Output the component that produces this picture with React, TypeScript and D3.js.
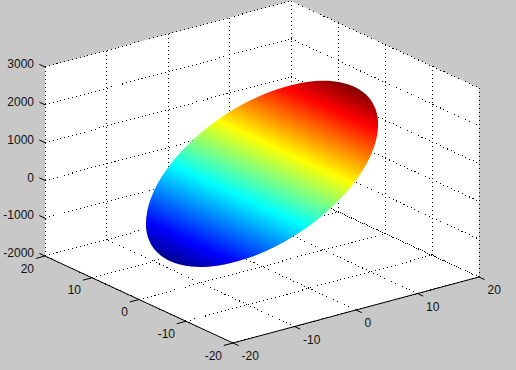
import React, { useEffect, useRef } from 'react';
import * as d3 from 'd3';

const xTicks = [-20, -10, 0, 10, 20];
const yTicks = [20, 10, 0, -10, -20];
const zTicks = [3000, 2000, 1000, 0, -1000, -2000];

// rim of the tilted disc
const rimX = [15, 14.5, 13, 10.6, 7.5, 3.9, 0, -3.9, -7.5, -10.6, -13, -14.5, -15, -14.5, -13, -10.6, -7.5, -3.9, 0, 3.9, 7.5, 10.6, 13, 14.5];
const rimY = [0, 3.9, 7.5, 10.6, 13, 14.5, 15, 14.5, 13, 10.6, 7.5, 3.9, 0, -3.9, -7.5, -10.6, -13, -14.5, -15, -14.5, -13, -10.6, -7.5, -3.9];
const rimZ = [2100, 2045, 1880, 1616, 1275, 879, 450, 21, -375, -716, -980, -1145, -1200, -1145, -980, -716, -375, 21, 450, 879, 1275, 1616, 1880, 2045];

const jetPositions = [0, 0.11, 0.375, 0.625, 0.875, 1];
const jetColors = ['#000090', '#0000ff', '#00ffff', '#ffff00', '#ff0000', '#800000'];

export default function App() {
  const svgRef = useRef<SVGSVGElement>(null);

  useEffect(() => {
    const svg = d3.select(svgRef.current);
    svg.selectAll('*').remove();

    // each data axis pushes the screen point along its own direction
    const xToSx = d3.scaleLinear().domain([-20, 20]).range([0, 246]);
    const xToSy = d3.scaleLinear().domain([-20, 20]).range([0, -66]);
    const yToSx = d3.scaleLinear().domain([-20, 20]).range([0, -188]);
    const yToSy = d3.scaleLinear().domain([-20, 20]).range([0, -87]);
    const zToSy = d3.scaleLinear().domain([-2000, 3000]).range([0, -189]);

    const project = (x: number, y: number, z: number): [number, number] => [
      233 + xToSx(x) + yToSx(y),
      343 + xToSy(x) + yToSy(y) + zToSy(z),
    ];

    const line = d3.line();
    const zMin = -2000;
    const zMax = 3000;

    svg.append('rect').attr('width', 516).attr('height', 370).attr('fill', '#c8c8c8');

    // white walls and floor
    svg.append('path')
      .attr('d', line([
        project(-20, 20, zMin), project(-20, 20, zMax), project(20, 20, zMax),
        project(20, -20, zMax), project(20, -20, zMin), project(-20, -20, zMin),
      ]) + 'Z')
      .attr('fill', '#fff');

    // dotted grid
    const grid: [number, number][][] = [];
    xTicks.forEach(x => {
      grid.push([project(x, 20, zMin), project(x, 20, zMax)]);
      grid.push([project(x, -20, zMin), project(x, 20, zMin)]);
    });
    yTicks.forEach(y => {
      grid.push([project(20, y, zMin), project(20, y, zMax)]);
      grid.push([project(-20, y, zMin), project(20, y, zMin)]);
    });
    zTicks.forEach(z => {
      grid.push([project(-20, 20, z), project(20, 20, z)]);
      grid.push([project(20, 20, z), project(20, -20, z)]);
    });
    grid.push([project(-20, 20, zMin), project(-20, 20, zMax)]);

    svg.append('g')
      .selectAll('path')
      .data(grid)
      .join('path')
      .attr('d', d => line(d))
      .attr('fill', 'none')
      .attr('stroke', '#000')
      .attr('stroke-dasharray', '1 3')
      .attr('shape-rendering', 'crispEdges');

    // jet gradient, lines of equal colour run along the y axis
    const rim = rimX.map((x, i) => project(x, rimY[i], rimZ[i]));
    const low = rim[12];
    const high = rim[0];
    const dir = [yToSx(20) - yToSx(-20), yToSy(20) - yToSy(-20)];
    const len = Math.hypot(dir[0], dir[1]);
    const nx = -dir[1] / len;
    const ny = dir[0] / len;
    const span = (high[0] - low[0]) * nx + (high[1] - low[1]) * ny;
    const midX = (high[0] + low[0]) / 2;
    const midY = (high[1] + low[1]) / 2;

    const gradient = svg.append('defs').append('linearGradient')
      .attr('id', 'jet')
      .attr('gradientUnits', 'userSpaceOnUse')
      .attr('x1', midX - (nx * span) / 2)
      .attr('y1', midY - (ny * span) / 2)
      .attr('x2', midX + (nx * span) / 2)
      .attr('y2', midY + (ny * span) / 2);
    gradient.selectAll('stop')
      .data(jetPositions)
      .join('stop')
      .attr('offset', d => d)
      .attr('stop-color', (d, i) => jetColors[i]);

    svg.append('path')
      .attr('d', d3.line().curve(d3.curveCatmullRomClosed)(rim))
      .attr('fill', 'url(#jet)');

    // solid front edges
    svg.append('path')
      .attr('d', line([project(-20, 20, zMin), project(-20, -20, zMin), project(20, -20, zMin)]))
      .attr('fill', 'none')
      .attr('stroke', '#000');

    // ticks
    const ticks: [number, number][][] = [];
    zTicks.forEach(z => ticks.push([project(-20, 20, z), project(-20, 21.2, z)]));
    yTicks.forEach(y => ticks.push([project(-20, y, zMin), project(-21.5, y, zMin)]));
    xTicks.forEach(x => ticks.push([project(x, -20, zMin), project(x, -21.2, zMin)]));

    svg.append('g')
      .selectAll('path')
      .data(ticks)
      .join('path')
      .attr('d', d => line(d))
      .attr('fill', 'none')
      .attr('stroke', '#000');

    const labels = svg.append('g')
      .attr('font-family', '"Liberation Sans", Arial, sans-serif')
      .attr('font-size', 12)
      .attr('fill', '#111');

    labels.selectAll('.z')
      .data(zTicks)
      .join('text')
      .attr('class', 'z')
      .attr('x', 34)
      .attr('y', d => project(-20, 20, d)[1] - 3)
      .attr('dy', '0.35em')
      .attr('text-anchor', 'end')
      .text(d => d);

    labels.selectAll('.y')
      .data(yTicks)
      .join('text')
      .attr('class', 'y')
      .attr('x', d => project(-20, d, zMin)[0] - 11)
      .attr('y', d => project(-20, d, zMin)[1] + 12.5)
      .attr('dy', '0.35em')
      .attr('text-anchor', 'end')
      .text(d => d);

    labels.selectAll('.x')
      .data(xTicks)
      .join('text')
      .attr('class', 'x')
      .attr('x', d => project(d, -20, zMin)[0] + 8.5)
      .attr('y', d => project(d, -20, zMin)[1] + 13)
      .attr('dy', '0.35em')
      .text(d => d);
  }, []);

  return (
    <svg
      ref={svgRef}
      width={516}
      height={370}
      style={{ position: 'absolute', left: 0, top: 0, display: 'block' }}
    />
  );
}
